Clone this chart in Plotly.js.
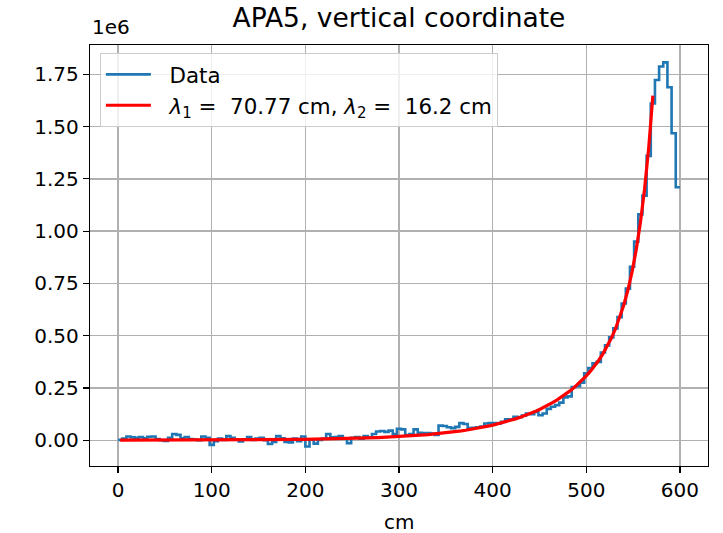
<!DOCTYPE html>
<html>
<head>
<meta charset="utf-8">
<script src="https://cdn.plot.ly/plotly-3.0.1.min.js"></script>
<style>
  html, body { margin: 0; padding: 0; background: #ffffff; }
  #chart { width: 723px; height: 533px; }
</style>
</head>
<body>
<div id="chart"></div>
<script>
// Histogram of the vertical coordinate (cm), counts in units of 1e6
const binStart = 0;
const binEnd = 600;
const counts = [
  0.002, 0.008, 0.018, 0.014, 0.012, 0.016, 0.010, 0.017, 0.018, 0.006,
  0.000, -0.003, 0.012, 0.030, 0.026, 0.010, 0.016, 0.006, 0.003, 0.000,
  0.018, 0.012, -0.022, -0.004, 0.008, 0.002, 0.020, 0.012, 0.004, -0.006,
  0.004, 0.016, 0.002, 0.008, 0.012, 0.000, -0.018, -0.008, 0.020, 0.010,
  -0.008, -0.010, 0.008, -0.004, 0.018, -0.030, 0.004, -0.016, 0.002, 0.008,
  0.030, 0.014, 0.016, 0.020, 0.010, -0.014, 0.012, 0.016, 0.008, 0.020,
  0.012, 0.030, 0.042, 0.044, 0.040, 0.046, 0.030, 0.055, 0.052, 0.025,
  0.030, 0.052, 0.036, 0.034, 0.035, 0.032, 0.025, 0.070, 0.068, 0.062,
  0.058, 0.064, 0.082, 0.078, 0.058, 0.060, 0.062, 0.066, 0.080, 0.082,
  0.082, 0.080, 0.088, 0.100, 0.100, 0.112, 0.110, 0.118, 0.128, 0.125,
  0.135, 0.120, 0.128, 0.150, 0.160, 0.168, 0.180, 0.205, 0.210, 0.255,
  0.258, 0.275, 0.320, 0.345, 0.368, 0.375, 0.420, 0.454, 0.492, 0.535,
  0.589, 0.654, 0.725, 0.830, 0.950, 1.080, 1.170, 1.360, 1.610, 1.723,
  1.787, 1.807, 1.688, 1.468, 1.210
];

// Double-exponential fit (amplitudes in 1e6, referenced to x = 600 cm)
const lambda1 = 70.77;
const lambda2 = 16.2;
const fitAmp1 = 1.222;
const fitAmp2 = 4.97;
const fitLastBin = 128;

const xTicks = [0, 100, 200, 300, 400, 500, 600];
const yTicks = [0, 0.25, 0.5, 0.75, 1.0, 1.25, 1.5, 1.75];

const nBins = counts.length;
const width = (binEnd - binStart) / nBins;

// step outline: each bin's value held across its width
const stepX = [], stepY = [];
for (let i = 0; i < nBins; i++) {
  stepX.push(binStart + i * width);
  stepY.push(counts[i]);
}
stepX.push(binEnd);
stepY.push(counts[nBins - 1]);

// fit curve evaluated at bin centres
const fitX = [], fitY = [];
for (let i = 0; i <= fitLastBin; i++) {
  const x = binStart + (i + 0.5) * width;
  fitX.push(x);
  fitY.push(fitAmp1 * Math.exp((x - binEnd) / lambda1) + fitAmp2 * Math.exp((x - binEnd) / lambda2));
}

const font = 'DejaVu Sans, sans-serif';
const pad = '\u00a0\u00a0';

const traces = [
  {
    x: stepX, y: stepY, type: 'scatter', mode: 'lines',
    line: { shape: 'hv', color: '#1f77b4', width: 2.6 },
    name: pad + 'Data'
  },
  {
    x: fitX, y: fitY, type: 'scatter', mode: 'lines',
    line: { color: '#ff0000', width: 3.2 },
    name: pad + '<i>λ</i><sub>1</sub> =  ' + lambda1.toFixed(2) + ' cm, <i>λ</i><sub>2</sub> =  ' + lambda2 + ' cm'
  }
];

const axisCommon = {
  showgrid: true, gridcolor: '#b0b0b0', gridwidth: 1.4,
  zeroline: false,
  showline: true, linecolor: '#000000', linewidth: 1.2, mirror: true,
  ticks: 'outside', ticklen: 6, tickwidth: 1.2, tickcolor: '#000000',
  tickfont: { family: font, size: 20, color: '#000000' }
};

const layout = {
  width: 723, height: 533,
  margin: { l: 90, r: 15, t: 45, b: 67 },
  paper_bgcolor: '#ffffff', plot_bgcolor: '#ffffff',
  title: {
    text: 'APA5, vertical coordinate',
    font: { family: font, size: 26.5, color: '#000000' },
    x: 0.5, xref: 'paper', y: 1 - 18 / 533, yanchor: 'middle'
  },
  xaxis: Object.assign({}, axisCommon, {
    range: [-30, 630], tickvals: xTicks, ticktext: xTicks.map(String)
  }),
  yaxis: Object.assign({}, axisCommon, {
    range: [-0.123, 1.89], tickvals: yTicks, ticktext: yTicks.map(v => v.toFixed(2))
  }),
  showlegend: true,
  legend: {
    x: 0.016, y: 0.981, xanchor: 'left', yanchor: 'top',
    bgcolor: 'rgba(255,255,255,0.8)', bordercolor: '#cccccc', borderwidth: 1,
    font: { family: font, size: 21.4, color: '#000000' },
    itemwidth: 45
  },
  annotations: [
    {
      text: '1e6', xref: 'paper', yref: 'paper', x: 0, y: 1.043,
      xanchor: 'left', yanchor: 'middle', showarrow: false,
      font: { family: font, size: 20, color: '#000000' }
    },
    {
      text: 'cm', xref: 'paper', yref: 'paper', x: 0.5, y: -0.133,
      xanchor: 'center', yanchor: 'middle', showarrow: false,
      font: { family: font, size: 20, color: '#000000' }
    }
  ]
};

Plotly.newPlot('chart', traces, layout, { displayModeBar: false, staticPlot: true });
</script>
</body>
</html>
